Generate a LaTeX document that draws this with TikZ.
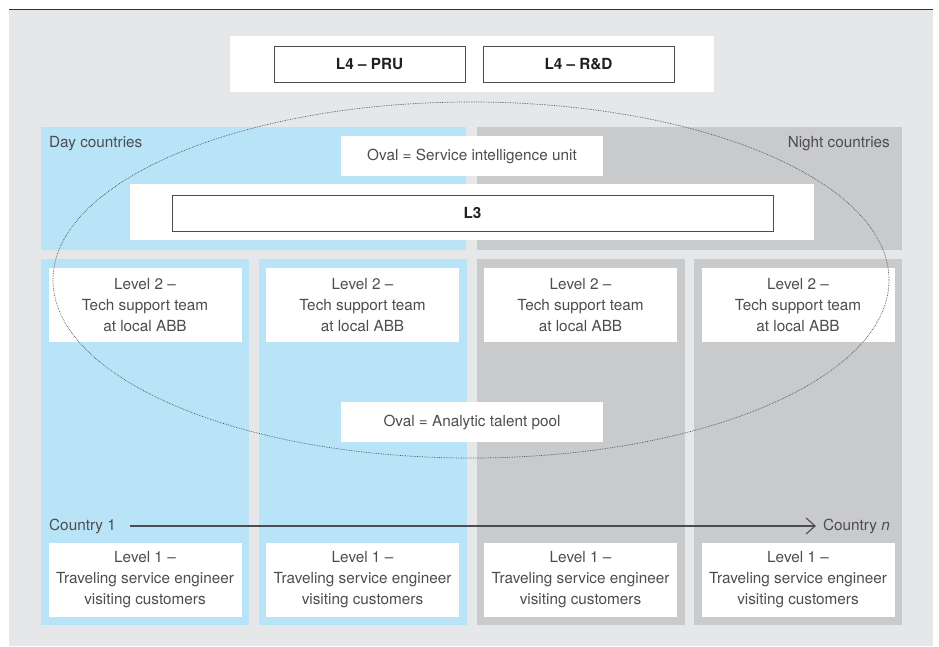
\documentclass[tikz,border=0pt]{standalone}
\usepackage{fontspec}
\setmainfont{TeX Gyre Heros}
\usetikzlibrary{%
    arrows.meta,
    backgrounds,
    positioning
}

\definecolor{pageGray}{HTML}{E6E7E8}
\definecolor{dayBlue}{HTML}{B9E4F8}
\definecolor{nightGray}{HTML}{C9CACC}
\definecolor{textGray}{HTML}{4D4D4F}
\definecolor{keyBlack}{HTML}{231F20}

\newcommand{\chartfont}{\fontsize{15.3}{21}\selectfont}

\tikzset{
    panel/.style={inner sep=0pt, outer sep=0pt},
    label box/.style={fill=white, inner sep=0pt, align=center,
                      text=textGray, font=\chartfont},
    level box/.style={label box, minimum width=193, minimum height=74},
    key box/.style={draw=textGray, line width=1pt, fill=white, inner sep=0pt,
                    text=keyBlack, font=\chartfont\bfseries},
    plain text/.style={inner sep=0pt, text=textGray, font=\chartfont}
}

\begin{document}
\begin{tikzpicture}[x=1pt, y=-1pt]
    \useasboundingbox (0,0) rectangle (939,646);
    \fill[pageGray] (9,10) rectangle (933,646);
    \draw[black!80, line width=1.5pt] (9,9.5) -- (933,9.5);

    % L4
    \node[label box, minimum width=484, minimum height=56] (top) at (472,64) {};
    \node[key box, minimum width=191, minimum height=36] (pru) at (369.5,64) {L4 – PRU};
    \node[key box, minimum width=191, minimum height=36] (rnd) at (578.5,64) {L4 – R\&D};

    % day / night countries
    \node[panel, fill=dayBlue, minimum width=425, minimum height=123] (day) at (253.5,188.5) {};
    \node[panel, fill=nightGray, minimum width=425, minimum height=123] (night) at (689.5,188.5) {};
    \node[plain text, anchor=west] (dayname) at (49,144) {Day countries};
    \node[plain text, anchor=east] (nightname) at (890,144) {Night countries};

    \node[label box, minimum width=262, minimum height=40] (sunit) at (472,156) {Oval = Service intelligence unit};
    \node[label box, minimum width=684, minimum height=56] (lthree) at (472,212) {};
    \node[key box, minimum width=601, minimum height=36] (lthreein) at (472.5,213) {L3};

    \foreach \Col/\X/\Fill in {1/145/dayBlue, 2/362.5/dayBlue, 3/580.5/nightGray, 4/798/nightGray} {
        \node[panel, fill=\Fill, minimum width=208, minimum height=366] (col-\Col) at (\X,442) {};
        \node[level box] (lvtwo-\Col) at (\X,305) {Level 2 –\\Tech support team\\at local ABB};
        \node[level box] (lvone-\Col) at (\X,580) {Level 1 –\\Traveling service engineer\\visiting customers};
    }

    \node[label box, minimum width=262, minimum height=40] (atp) at (472,422) {Oval = Analytic talent pool};

    \draw[densely dotted, textGray, line width=.7pt] (471,280) ellipse [x radius=418, y radius=178];

    % countries
    \node[plain text, anchor=west] (first) at (49,526) {Country 1};
    \node[plain text, anchor=east] (last) at (890,526) {Country \textit{n}};
    \draw[textGray, line width=1.1pt, -{Straight Barb[length=9pt,width=16pt]}]
        ([xshift=14]first.east) -- ([xshift=-7]last.west);
\end{tikzpicture}
\end{document}
